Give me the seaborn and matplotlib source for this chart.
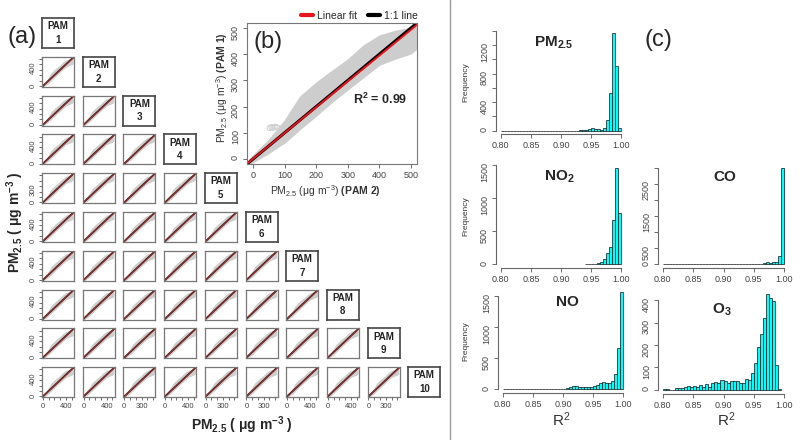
import numpy as np
import pandas as pd
import matplotlib
matplotlib.use("Agg")
import matplotlib.pyplot as plt
from matplotlib.lines import Line2D
import seaborn as sns

# ---------------- data ----------------
pam_names = ["PAM\n1", "PAM\n2", "PAM\n3", "PAM\n4", "PAM\n5",
             "PAM\n6", "PAM\n7", "PAM\n8", "PAM\n9", "PAM\n10"]
col_ticklabel = ["400", "400", "300", "400", "300", "300", "400", "400", "300"]   # x labels under PAM1..PAM9 columns
row_ticklabel = ["400", "400", "400", "300", "400", "400", "400", "400", "400"]   # y labels for rows PAM2..PAM10

# gray scatter cloud of PAM1 vs PAM2 (envelope)
cloud_x = [-12, 0, 50, 100, 150, 200, 250, 300, 350, 400, 450, 500, 515]
cloud_upper = [-4, 12, 72, 145, 238, 290, 335, 378, 432, 470, 488, 500, 505]
cloud_lower = [-22, -10, 25, 65, 118, 168, 220, 268, 315, 362, 385, 405, 420]
outlier_x = [52, 58, 64, 70, 76]
outlier_y = [118, 121, 119, 122, 120]
fit_slope = 0.985
fit_intercept = 1.0
r2_value = "0.99"

# histograms of R^2 (bin width 0.005)
bin_width = 0.005
pm25_start = 0.80
pm25_counts = [0, 0, 0, 0, 0, 0, 0, 0, 0, 0, 0, 0, 0, 0, 0, 0, 0, 0, 0, 0, 0, 0, 0, 0, 0, 0,
               2, 3, 6, 20, 30, 22, 25, 12, 40, 155, 527, 1365, 910, 38]
no2_start = 0.94
no2_counts = [1, 2, 3, 6, 15, 35, 75, 162, 258, 667, 1450, 778]
co_start = 0.80
co_counts = [20, 18, 8, 3, 2, 2, 1, 1, 1, 1, 1, 1, 1, 1, 1, 1, 1, 1, 1, 1, 1, 1, 2, 2,
             2, 3, 3, 4, 5, 6, 8, 10, 15, 25, 60, 30, 70, 60, 260, 2990]
no_start = 0.80
no_counts = [0, 0, 0, 0, 0, 0, 0, 0, 0, 0, 0, 0, 0, 0, 0, 0,
             1, 2, 3, 4, 10, 16, 32, 48, 48, 43, 38, 43, 43, 32, 54, 70, 97, 118, 108, 97,
             140, 247, 661, 1559]
o3_start = 0.80
o3_counts = [6, 5, 2, 1, 10, 10, 8, 12, 18, 12, 18, 12, 24, 15, 28, 15, 30, 36, 30, 45,
             40, 30, 42, 40, 42, 32, 32, 48, 45, 75, 120, 190, 250, 322, 425, 410, 395, 110, 5]

# ---------------- style ----------------
sns.set_theme(style="ticks")
plt.rcParams["font.family"] = ["Liberation Sans", "DejaVu Sans"]
plt.rcParams["mathtext.fontset"] = "custom"
plt.rcParams["mathtext.rm"] = "Liberation Sans"
plt.rcParams["mathtext.it"] = "Liberation Sans:italic"
plt.rcParams["mathtext.bf"] = "Liberation Sans:bold"
plt.rcParams["mathtext.sf"] = "Liberation Sans"

CLOUD = "#cdcdcd"
RED = "#e8141b"
MINI_RED = "#b02a22"
AXC = "#666666"
LABC = "#333333"

W, H = 800, 440
fig = plt.figure(figsize=(8, 4.4), dpi=100)
fig.patch.set_facecolor("white")


def add_ax(l, t, r, b):
    return fig.add_axes([l / W, 1 - b / H, (r - l) / W, (b - t) / H])


def ftext(x, y, s, **kw):
    fig.text(x / W, 1 - y / H, s, **kw)


# ---------------- panel (a) ----------------
col_x0, col_dx, cell_w = 42, 40.7, 31
row_y0, row_dy, cell_h = 18, 38.8, 30
mini_lim = (-15, 540)
mini_ticks = [0, 100, 200, 300, 400, 500]
for i in range(10):
    for j in range(i + 1):
        l = col_x0 + j * col_dx
        t = row_y0 + i * row_dy
        ax = add_ax(l, t, l + cell_w + 1, t + cell_h)
        if i == j:
            ax.set_xticks([])
            ax.set_yticks([])
            for s in ax.spines.values():
                s.set_color("#444444")
                s.set_linewidth(1.2)
            ax.text(0.5, 0.5, pam_names[i], ha="center", va="center", fontsize=7,
                    fontweight="bold", linespacing=1.45, transform=ax.transAxes, color="#222222")
            continue
        ax.fill_between(cloud_x, cloud_lower, cloud_upper, color=CLOUD, lw=0.8, edgecolor=CLOUD)
        ax.axline((0, 0), slope=1, color="#222222", lw=1.3)
        ax.axline((0, fit_intercept), slope=fit_slope, color=MINI_RED, lw=0.7)
        ax.set_xlim(mini_lim)
        ax.set_ylim(mini_lim)
        for s in ax.spines.values():
            s.set_color("#777777")
            s.set_linewidth(0.9)
        if j == 0:
            lab = row_ticklabel[i - 1]
            ax.set_yticks(mini_ticks, labels=["0" if v == 0 else (lab if str(v) == lab else "") for v in mini_ticks])
        else:
            ax.set_yticks([])
        if i == 9:
            lab = col_ticklabel[j]
            ax.set_xticks(mini_ticks, labels=["0" if v == 0 else (lab if str(v) == lab else "") for v in mini_ticks])
        else:
            ax.set_xticks([])
        ax.tick_params(length=2.5, width=0.6, colors="#555555", labelsize=5.5, pad=1.5, labelcolor="#444444")
        ax.tick_params(axis="y", labelrotation=90)

ftext(22, 37, "(a)", fontsize=17, ha="center", va="center")
ftext(242, 425, r"PM$_\mathbf{2.5}$ ( μg m$^\mathbf{-3}$ )", fontsize=10, fontweight="bold",
      ha="center", va="center")
ftext(15, 222, r"PM$_\mathbf{2.5}$ ( μg m$^\mathbf{-3}$ )", fontsize=10, fontweight="bold",
      ha="center", va="center", rotation=90)

# ---------------- panel (b) ----------------
axb = add_ax(247, 23, 417, 164)
axb.fill_between(cloud_x, cloud_lower, cloud_upper, color=CLOUD, lw=1.5, edgecolor=CLOUD)
axb.scatter(outlier_x, outlier_y, s=14, facecolors="none", edgecolors=CLOUD, linewidths=0.7)
l_one = axb.axline((0, 0), slope=1, color="black", lw=2.2, label="1:1 line")
l_fit = axb.axline((0, fit_intercept), slope=fit_slope, color=RED, lw=1.4, label="Linear fit")
axb.set_xlim(-20, 520)
axb.set_ylim(-20, 520)
axb.set_xticks([0, 100, 200, 300, 400, 500])
axb.set_yticks([0, 100, 200, 300, 400, 500])
for s in axb.spines.values():
    s.set_color("#777777")
    s.set_linewidth(0.8)
axb.tick_params(length=3, width=0.6, colors="#555555", labelsize=6.5, labelcolor="#444444", pad=2)
axb.tick_params(axis="y", labelrotation=90)
axb.text(404, 228, r"R$^\mathbf{2}$ = " + r2_value, fontsize=9, fontweight="bold", ha="center", va="center")
leg = axb.legend(handles=[l_fit, l_one], ncol=2, loc="lower right", bbox_to_anchor=(1.02, 1.0),
                 frameon=False, fontsize=7.5, handlelength=1.2, handletextpad=0.4,
                 columnspacing=1.0, borderaxespad=0.1, borderpad=0.1)
for h in leg.get_lines():
    h.set_linewidth(3)
ftext(268, 42, "(b)", fontsize=17, ha="center", va="center")
ftext(325, 191, r"PM$_{2.5}$ (μg m$^{-3}$) $\mathbf{(PAM\ 2)}$", fontsize=7.5, ha="center",
      va="center", color=LABC)
ftext(222, 88, r"PM$_{2.5}$ (μg m$^{-3}$) $\mathbf{(PAM\ 1)}$", fontsize=7.5, ha="center",
      va="center", rotation=90, color=LABC)

# ---------------- panel (c) ----------------
xt = [0.80, 0.85, 0.90, 0.95, 1.00]


def hist_panel(box, start, counts, yticks, ylabs, title, title_xy, freq):
    ax = add_ax(*box)
    n = len(counts)
    edges = [round(start + bin_width * k, 4) for k in range(n + 1)]
    df = pd.DataFrame({"r2": [e + bin_width / 2 for e in edges[:-1]],
                       "n": [float(c) for c in counts]})
    sns.histplot(data=df, x="r2", weights="n", bins=edges, color="#00ffff", edgecolor="#111111",
                 linewidth=0.5, alpha=1, ax=ax)
    top = max(counts)
    ax.set_xlim(0.792, 1.008)
    ax.set_ylim(-0.04 * top, 1.04 * top)
    ax.set_xticks(xt, labels=["%.2f" % v for v in xt])
    ax.set_yticks(yticks, labels=ylabs)
    ax.set_xlabel("")
    ax.set_ylabel("")
    ax.spines["top"].set_visible(False)
    ax.spines["right"].set_visible(False)
    for k in ("left", "bottom"):
        ax.spines[k].set_color(AXC)
        ax.spines[k].set_linewidth(0.8)
    ax.spines["left"].set_bounds(0, yticks[-1])
    ax.spines["bottom"].set_bounds(0.80, 1.00)
    ax.tick_params(length=3, width=0.6, colors="#555555", labelsize=6.5, labelcolor="#444444", pad=2)
    ax.tick_params(axis="y", labelrotation=90)
    ftext(title_xy[0], title_xy[1], title, fontsize=11, fontweight="bold", ha="center", va="center")
    if freq:
        ftext(466, (box[1] + box[3]) / 2, "Frequency", fontsize=6, rotation=90,
              ha="center", va="center", color=LABC)
    return ax


hist_panel((496, 29.5, 626, 134.5), pm25_start, pm25_counts,
           [0, 200, 400, 600, 800, 1000, 1200, 1400],
           ["0", "", "400", "", "800", "", "1200", ""],
           r"PM$_\mathbf{2.5}$", (554, 43), True)
hist_panel((496, 164.5, 626, 268), no2_start, no2_counts,
           [0, 500, 1000, 1500], ["0", "500", "1000", "1500"],
           r"NO$_\mathbf{2}$", (559, 177), True)
hist_panel((658, 164, 789, 268), co_start, co_counts,
           [0, 500, 1000, 1500, 2000, 2500, 3000],
           ["0", "500", "", "1500", "", "2500", ""],
           "CO", (725, 177), False)
hist_panel((498, 288.6, 628, 393.2), no_start, no_counts,
           [0, 500, 1000, 1500], ["0", "500", "1000", "1500"],
           "NO", (567, 302), True)
hist_panel((658, 290.6, 789, 393.8), o3_start, o3_counts,
           [0, 100, 200, 300, 400], ["0", "100", "200", "300", "400"],
           r"O$_\mathbf{3}$", (722, 310), False)

ftext(561, 420, r"R$^2$", fontsize=11, ha="center", va="center", color=LABC)
ftext(726, 420, r"R$^2$", fontsize=11, ha="center", va="center", color=LABC)
ftext(658, 40, "(c)", fontsize=17, ha="center", va="center")

# divider between panels
fig.add_artist(Line2D([450 / W, 450 / W], [0, 1], color="#999999", lw=1.0))

fig.savefig("out.png", dpi=100, facecolor="white")
